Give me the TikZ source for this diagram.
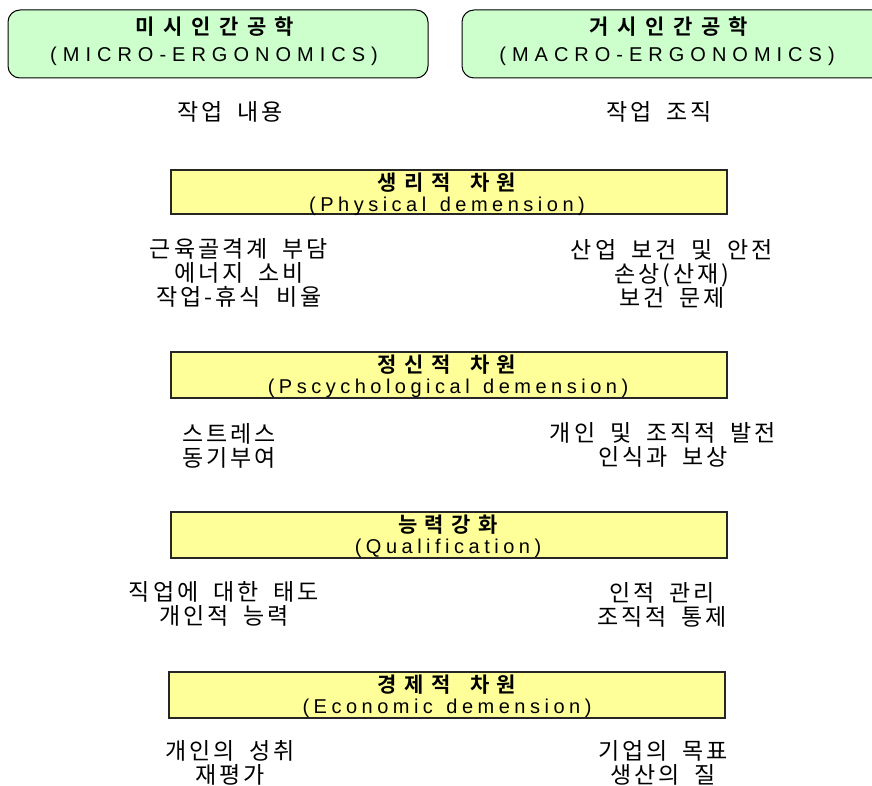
\documentclass[tikz,border=0pt]{standalone}
\usepackage{fontspec}
\newfontfamily\kr{Noto Sans CJK KR}
\newfontfamily\krb{Noto Sans CJK KR Bold}
\newfontfamily\lat{Liberation Sans}
\definecolor{gfill}{HTML}{CCFFCC}
\definecolor{yfill}{HTML}{FFFF99}
\makeatletter
% tracked text: #1 kern between characters, #2 extra space width, #3 text (~ = space)
\newcommand\trk[3]{\def\trk@k{#1}\def\trk@s{#2}\kern-#1\relax\trk@loop#3\trk@end}
\def\trk@end{\trk@end}
\def\trk@loop#1{\ifx#1\trk@end\else\ifx#1~\kern\trk@k\kern\trk@s\relax\else\kern\trk@k\relax#1\fi\expandafter\trk@loop\fi}
\makeatother
\newcommand\bt[1]{\trk{3pt}{9pt}{#1}}
\newcommand\kt[1]{\trk{7.5pt}{4.5pt}{#1}}
\newcommand\gt[1]{\trk{8.5pt}{4.5pt}{#1}}
\newcommand\lt[1]{\trk{4.5pt}{4.5pt}{#1}}
\newcommand\ut[1]{\trk{6pt}{0pt}{#1}}
\begin{document}
\begin{tikzpicture}[x=1pt,y=-1pt,
  greenbox/.style={draw=black,line width=1pt,fill=gfill,rounded corners=12pt},
  yellowbox/.style={draw=black!85,line width=1.6pt,fill=yfill},
  ktitle/.style={anchor=base,inner sep=0pt,font=\krb\fontsize{21}{22}\selectfont},
  ltitle/.style={anchor=base,inner sep=0pt,font=\lat\fontsize{20}{20}\selectfont},
  body/.style={align=center,inner sep=0pt,font=\kr\fontsize{23}{24}\selectfont}]
\useasboundingbox (0,0) rectangle (872,786);
\begin{scope}
\clip (0,0) rectangle (872,786);
\draw[greenbox] (8,10) rectangle (428,78);
\draw[greenbox] (462,10) rectangle (886,78);
\end{scope}
% green titles
\node[ktitle] (micro-k) at (215,35) {\gt{미시인간공학}};
\node[ltitle] (micro-l) at (214,61.5) {\ut{(MICRO-ERGONOMICS)}};
\node[ktitle] (macro-k) at (669,35) {\gt{거시인간공학}};
\node[ltitle] (macro-l) at (667,61.5) {\ut{(MACRO-ERGONOMICS)}};
\node[body] (micro-c) at (230,112) {\bt{작업~내용}};
\node[body] (macro-c) at (659,112) {\bt{작업~조직}};
% yellow boxes
\draw[yellowbox] (171,170) rectangle (727,214);
\node[ktitle] (phys-k) at (447,190.5) {\kt{생리적~차원}};
\node[ltitle] (phys-l) at (447,211.5) {\lt{(Physical~demension)}};
\draw[yellowbox] (171,352) rectangle (727,398);
\node[ktitle] (psy-k) at (447,372.5) {\kt{정신적~차원}};
\node[ltitle] (psy-l) at (448,393.5) {\lt{(Pscychological~demension)}};
\draw[yellowbox] (171,512) rectangle (727,558);
\node[ktitle] (qual-k) at (448,532.5) {\kt{능력강화}};
\node[ltitle] (qual-l) at (448,553.5) {\lt{(Qualification)}};
\draw[yellowbox] (169,672) rectangle (725,718);
\node[ktitle] (econ-k) at (447,692.5) {\kt{경제적~차원}};
\node[ltitle] (econ-l) at (447,713.5) {\lt{(Economic~demension)}};
% descriptive texts
\node[body] (p-l) at (239,272.5) {\bt{근육골격계~부담}\\\bt{에너지~소비}\\\bt{작업-휴식~비율}};
\node[body] (p-r) at (672,274) {\bt{산업~보건~및~안전}\\\bt{손상(산재)}\\\bt{보건~문제}};
\node[body,align=left,anchor=west] (s-l) at (182,446) {\bt{스트레스}\\\bt{동기부여}};
\node[body] (s-r) at (663,445) {\bt{개인~및~조직적~발전}\\\bt{인식과~보상}};
\node[body] (q-l) at (224,603.5) {\bt{직업에~대한~태도}\\\bt{개인적~능력}};
\node[body] (q-r) at (662,605) {\bt{인적~관리}\\\bt{조직적~통제}};
\node[body] (e-l) at (230,762.5) {\bt{개인의~성취}\\\bt{재평가}};
\node[body] (e-r) at (663,763) {\bt{기업의~목표}\\\bt{생산의~질}};
\end{tikzpicture}
\end{document}
